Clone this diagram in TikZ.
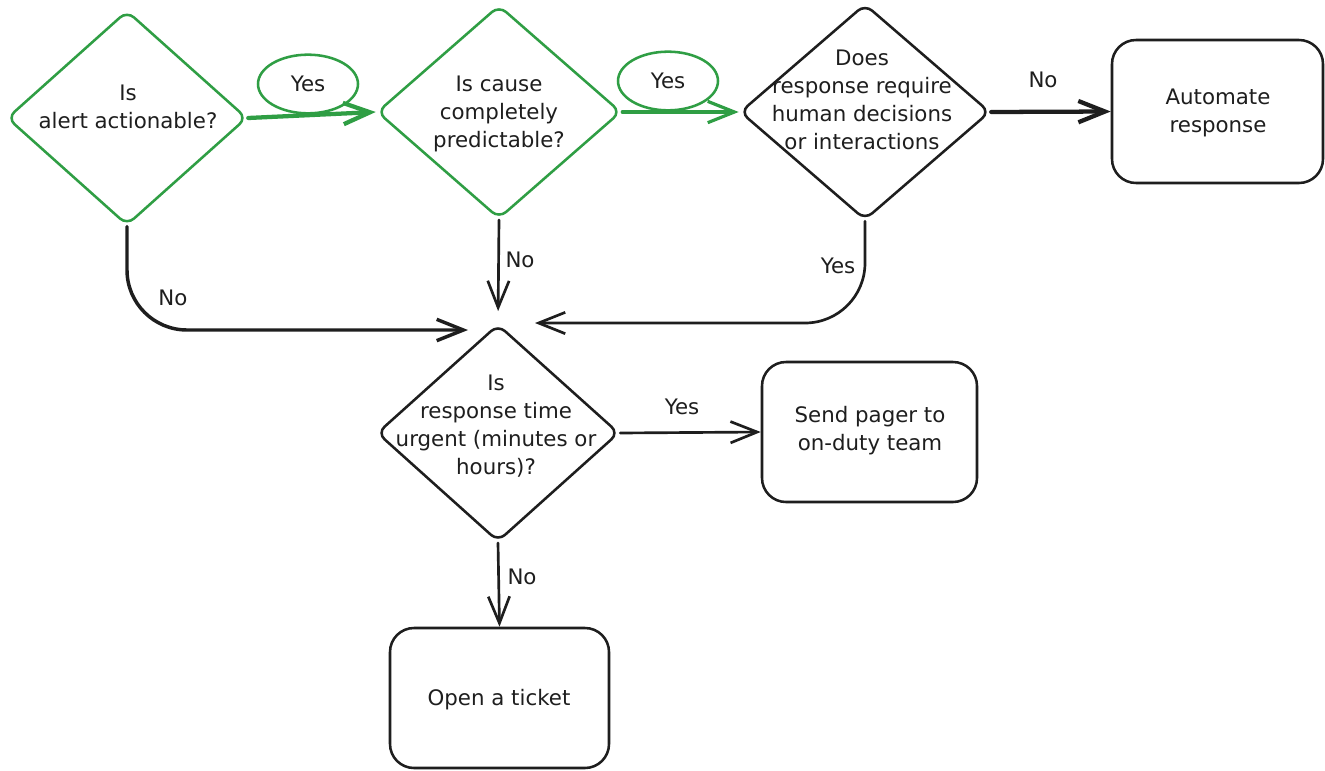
\documentclass[tikz,border=0pt]{standalone}
\usepackage{fontspec}
\setmainfont{DejaVu Sans}
\usetikzlibrary{shapes.geometric,arrows.meta}
\definecolor{ink}{HTML}{1E1E1E}
\definecolor{grn}{HTML}{2F9E44}
\begin{document}
\begin{tikzpicture}[x=0.75pt,y=-0.75pt,
  every node/.style={font=\fontsize{16pt}{21pt}\selectfont, text=ink},
  dia/.style={diamond, draw=#1, line width=1.9pt, rounded corners=7pt, inner sep=0pt},
  box/.style={rectangle, draw=ink, line width=1.9pt, rounded corners=18pt, inner sep=0pt},
  txt/.style={align=center, inner sep=0pt},
  lab/.style={inner sep=0pt},
  yesel/.style={ellipse, draw=grn, line width=1.9pt, minimum width=75pt, minimum height=44pt, inner sep=0pt},
  conn/.style={draw=ink, line width=2pt, -{Straight Barb[length=20pt,width=16pt]}, line cap=round, line join=round},
  gconn/.style={conn, draw=grn},
]
\fill[white] (0,0) rectangle (1325,771);
\useasboundingbox (0,0) rectangle (1325,771);

% decisions
\node[dia=grn, minimum width=180pt, minimum height=161pt] (d1) at (127,118) {};
\node[txt] (t1) at (128,107) {Is\\alert actionable?};
\node[dia=grn, minimum width=183pt, minimum height=160pt] (d2) at (499,112) {};
\node[txt] (t2) at (499,114) {Is cause\\completely\\predictable?};
\node[dia=ink, minimum width=187.5pt, minimum height=162pt] (d3) at (865,112) {};
\node[txt] (t3) at (862,100) {Does\\response require\\human decisions\\or interactions};
\node[dia=ink, minimum width=181.5pt, minimum height=163pt] (d4) at (498,433) {};
\node[txt] (t4) at (496,426) {Is\\response time\\urgent (minutes or\\hours)?};

% actions
\node[box, minimum width=158.25pt, minimum height=107.25pt] (auto) at (1217.5,111.5) {};
\node[txt] (ta) at (1218,113) {Automate\\response};
\node[box, minimum width=161.25pt, minimum height=105pt] (pager) at (869.5,432) {};
\node[txt] (tp) at (870,431) {Send pager to\\on-duty team};
\node[box, minimum width=164.25pt, minimum height=105pt] (ticket) at (499.5,698) {};
\node[txt] (tt) at (499,700) {Open a ticket};

% connectors
\draw[gconn, line width=3.2pt] (d1.east) -- (d2.west);
\draw[gconn, line width=2.4pt] (d2.east) -- (d3.west);
\draw[conn, line width=3.2pt] (d3.east) -- (auto.west);
\coordinate (e1) at (468,330);
\draw[conn, line width=2.6pt, rounded corners=45pt] (d1.south) |- (e1);
\draw[conn, shorten >=9pt] (d2.south) -- (d4.north);
\coordinate (e3) at (535,323);
\draw[conn, rounded corners=45pt] (d3.south) |- (e3);
\draw[conn] (d4.east) -- (pager.west);
\draw[conn] (d4.south) -- (ticket.north);

% labels
\node[yesel] (y1) at (308,84) {Yes};
\node[yesel] (y2) at (668,81) {Yes};
\node[lab] (n1) at (1043,80) {No};
\node[lab] (n2) at (173,298) {No};
\node[lab] (n3) at (520,260) {No};
\node[lab] (y3) at (838,266) {Yes};
\node[lab] (y4) at (682,407) {Yes};
\node[lab] (n4) at (522,577) {No};
\end{tikzpicture}
\end{document}
